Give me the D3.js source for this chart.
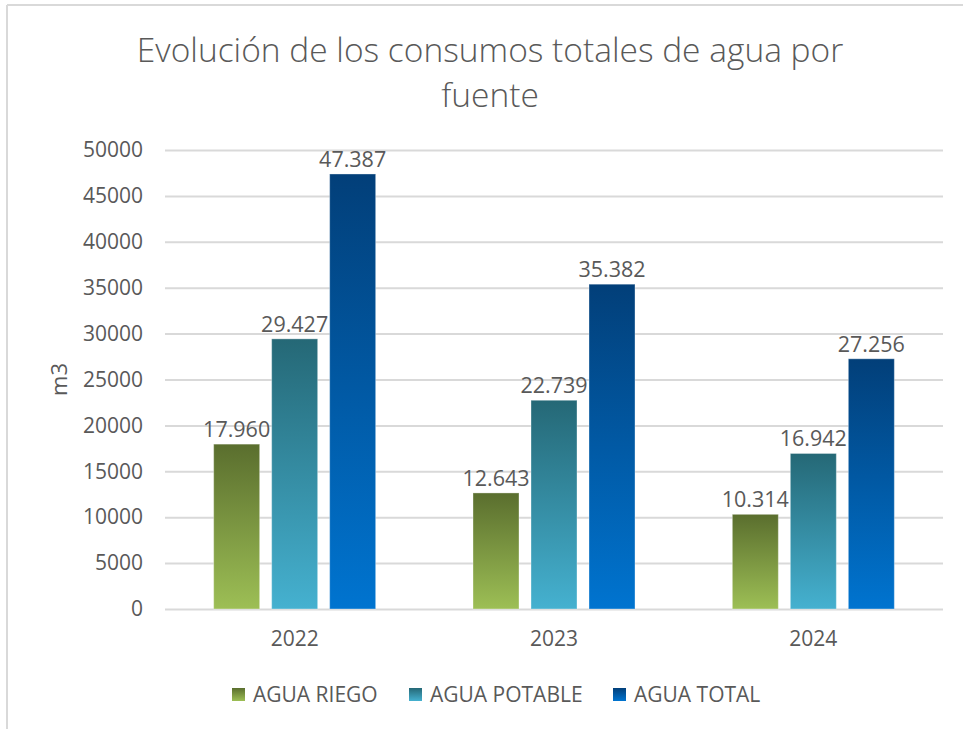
<!DOCTYPE html>
<html>
<head>
<meta charset="utf-8">
<script src="https://cdn.jsdelivr.net/npm/d3@7"></script>
<style>
  html, body { margin: 0; padding: 0; background: #fff; }
  svg { display: block; font-family: "Open Sans", "Noto Sans", sans-serif; }
</style>
</head>
<body>
<svg id="chart" width="963" height="729"></svg>
<script>
const years = ["2022", "2023", "2024"];
const seriesNames = ["AGUA RIEGO", "AGUA POTABLE", "AGUA TOTAL"];
const aguaRiego = [17960, 12643, 10314];
const aguaPotable = [29427, 22739, 16942];
const aguaTotal = [47387, 35382, 27256];
const yTicks = [0, 5000, 10000, 15000, 20000, 25000, 30000, 35000, 40000, 45000, 50000];
const titleLines = ["Evolución de los consumos totales de agua por", "fuente"];
const yTitle = "m3";

const seriesValues = [aguaRiego, aguaPotable, aguaTotal];
const gradStops = [
  ["#5a6e2e", "#9dbf55"],
  ["#256876", "#45b1d0"],
  ["#023f79", "#0074d0"]
];

const svg = d3.select("#chart");
const textColor = "#595959";

// frame
svg.append("line").attr("x1", 7).attr("x2", 963).attr("y1", 5).attr("y2", 5)
  .attr("stroke", "#d9d9d9").attr("stroke-width", 2);
svg.append("line").attr("x1", 7).attr("x2", 7).attr("y1", 5).attr("y2", 729)
  .attr("stroke", "#d9d9d9").attr("stroke-width", 2);

const defs = svg.append("defs");
gradStops.forEach((s, i) => {
  const g = defs.append("linearGradient").attr("id", "g" + i)
    .attr("x1", 0).attr("y1", 0).attr("x2", 0).attr("y2", 1);
  g.append("stop").attr("offset", "0%").attr("stop-color", s[0]);
  g.append("stop").attr("offset", "100%").attr("stop-color", s[1]);
});

const pLeft = 165, pRight = 943, pTop = 150, pBottom = 609;

const y = d3.scaleLinear().domain([0, 50000]).range([pBottom, pTop]);
const x0 = d3.scaleBand().domain(years).range([pLeft, pRight]).paddingInner(0).paddingOuter(0);
const x1 = d3.scaleBand().domain(seriesNames).range([0, x0.bandwidth()])
  .paddingInner(12 / 58).paddingOuter(0.839);

// title
svg.append("g").selectAll("text").data(titleLines).join("text")
  .attr("x", 490).attr("y", (d, i) => 62 + i * 45)
  .attr("text-anchor", "middle")
  .attr("fill", textColor)
  .attr("font-size", 33.5)
  .attr("font-weight", 300)
  .text(d => d);

// gridlines
const yAxis = d3.axisLeft(y).tickValues(yTicks).tickSize(-(pRight - pLeft)).tickPadding(22).tickFormat(d3.format("d"));
const gy = svg.append("g").attr("transform", `translate(${pLeft},0)`).call(yAxis);
gy.select(".domain").remove();
gy.selectAll(".tick line").attr("stroke", "#d9d9d9").attr("stroke-width", 2);
gy.selectAll(".tick text").attr("fill", textColor).attr("font-size", 21)
  .attr("font-family", "'Open Sans', sans-serif");

// x axis labels
const xAxis = d3.axisBottom(x0).tickSize(0).tickPadding(22);
const gx = svg.append("g").attr("transform", `translate(0,${pBottom})`).call(xAxis);
gx.select(".domain").remove();
gx.selectAll(".tick text").attr("fill", textColor).attr("font-size", 21)
  .attr("font-family", "'Open Sans', sans-serif");

// bars
const rows = [];
years.forEach((yr, i) => {
  seriesNames.forEach((s, j) => rows.push({ year: yr, series: s, idx: j, value: seriesValues[j][i] }));
});

const fmt = v => d3.format(",")(v).replace(/,/g, ".");

const bars = svg.append("g");
bars.selectAll("rect").data(rows).join("rect")
  .attr("x", d => x0(d.year) + x1(d.series))
  .attr("y", d => y(d.value))
  .attr("width", x1.bandwidth())
  .attr("height", d => y(0) - y(d.value))
  .attr("fill", d => `url(#g${d.idx})`)
  .attr("stroke", "rgba(255,255,255,0.35)")
  .attr("stroke-width", 1);

svg.append("g").selectAll("text").data(rows).join("text")
  .attr("x", d => x0(d.year) + x1(d.series) + x1.bandwidth() / 2)
  .attr("y", d => y(d.value) - 7)
  .attr("text-anchor", "middle")
  .attr("fill", textColor)
  .attr("font-size", 21.5)
  .text(d => fmt(d.value));

// y title
svg.append("text")
  .attr("transform", `translate(67,${(pTop + pBottom) / 2}) rotate(-90)`)
  .attr("text-anchor", "middle")
  .attr("fill", textColor)
  .attr("font-size", 22)
  .text(yTitle);

// legend
const legendX = [232, 409, 613];
const lg = svg.append("g").selectAll("g").data(seriesNames).join("g")
  .attr("transform", (d, i) => `translate(${legendX[i]},688)`);
lg.append("rect").attr("width", 13).attr("height", 13)
  .attr("fill", (d, i) => `url(#g${i})`);
lg.append("text").attr("x", 21).attr("y", 13.5)
  .attr("fill", textColor).attr("font-size", 21)
  .text(d => d);
</script>
</body>
</html>
